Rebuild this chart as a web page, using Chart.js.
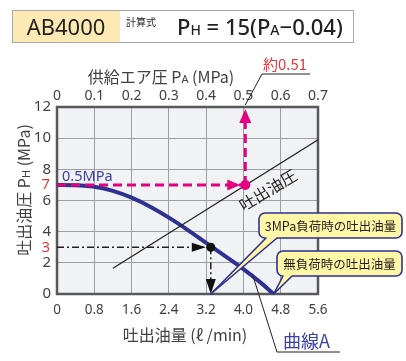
<!DOCTYPE html>
<html>
<head>
<meta charset="utf-8">
<script src="https://cdn.jsdelivr.net/npm/chart.js@4.4.1/dist/chart.umd.min.js"></script>
<style>
html, body { margin: 0; padding: 0; background: #fff; }
#wrap { width: 406px; height: 361px; }
</style>
</head>
<body>
<div id="wrap"><canvas id="chart" width="406" height="361"></canvas></div>
<script>
// axis ticks
const flowTicks = [0, 0.8, 1.6, 2.4, 3.2, 4.0, 4.8, 5.6];
const flowLabels = ['0', '0.8', '1.6', '2.4', '3.2', '4.0', '4.8', '5.6'];
const airTicks = [0, 0.1, 0.2, 0.3, 0.4, 0.5, 0.6, 0.7];
const airLabels = ['0', '0.1', '0.2', '0.3', '0.4', '0.5', '0.6', '0.7'];
const pressTicks = [0, 2, 4, 6, 8, 10, 12];

// curve A (flow vs discharge pressure at 0.5MPa supply)
const curveFlow = [0, 0.4, 0.8, 1.2, 1.6, 2.0, 2.4, 2.8, 3.2, 3.6, 4.0, 4.35, 4.65];
const curvePress = [7.0, 6.98, 6.88, 6.62, 6.18, 5.6, 4.9, 4.12, 3.28, 2.45, 1.6, 0.78, 0];

// discharge pressure line PH = 15(PA-0.04), read at its two ends
const linePA = [0.15, 0.7];
const linePH = [1.65, 9.9];

// reading points
const setPA = 0.505, setPH = 7;
const loadFlow = 3.3, loadPH = 3;
const noLoadFlow = 4.65;

const JP = '"Noto Sans CJK JP", "Noto Sans", sans-serif';
const NUM = '"Noto Sans", "Noto Sans CJK JP", sans-serif';
const BLUE = '#2e3192';
const MAGENTA = '#e4007f';
const RED = '#e8383d';

function toXY(xs, ys) {
    return xs.map((x, i) => ({x: x, y: ys[i]}));
}

function arrowHead(ctx, x, y, dx, dy, len, half, color) {
    const nx = -dy, ny = dx;
    ctx.save();
    ctx.fillStyle = color;
    ctx.beginPath();
    ctx.moveTo(x, y);
    ctx.lineTo(x - dx * len + nx * half, y - dy * len + ny * half);
    ctx.lineTo(x - dx * len - nx * half, y - dy * len - ny * half);
    ctx.closePath();
    ctx.fill();
    ctx.restore();
}

function dot(ctx, x, y, r, color) {
    ctx.save();
    ctx.fillStyle = color;
    ctx.beginPath();
    ctx.arc(x, y, r, 0, Math.PI * 2);
    ctx.fill();
    ctx.restore();
}

// draws text pieces one after the other: [text, font, dy]
function richText(ctx, parts, x, y, color) {
    ctx.save();
    ctx.fillStyle = color;
    ctx.textBaseline = 'alphabetic';
    ctx.textAlign = 'left';
    let cx = x;
    for (const p of parts) {
        ctx.font = p[1];
        ctx.fillText(p[0], cx, y + (p[2] || 0));
        cx += ctx.measureText(p[0]).width;
    }
    ctx.restore();
    return cx;
}

function richWidth(ctx, parts) {
    let w = 0;
    for (const p of parts) {
        ctx.font = p[1];
        w += ctx.measureText(p[0]).width;
    }
    return w;
}

function bubble(ctx, x, y, w, h, r, t1, t2, tipX, tipY, text) {
    ctx.save();
    ctx.beginPath();
    ctx.moveTo(x + r, y);
    ctx.lineTo(x + w - r, y);
    ctx.arcTo(x + w, y, x + w, y + r, r);
    ctx.lineTo(x + w, y + h - r);
    ctx.arcTo(x + w, y + h, x + w - r, y + h, r);
    ctx.lineTo(t2, y + h);
    ctx.lineTo(tipX, tipY);
    ctx.lineTo(t1, y + h);
    ctx.lineTo(x + r, y + h);
    ctx.arcTo(x, y + h, x, y + h - r, r);
    ctx.lineTo(x, y + r);
    ctx.arcTo(x, y, x + r, y, r);
    ctx.closePath();
    ctx.fillStyle = '#fff6a6';
    ctx.fill();
    ctx.lineWidth = 1.6;
    ctx.strokeStyle = BLUE;
    ctx.lineJoin = 'round';
    ctx.stroke();
    ctx.fillStyle = '#231f20';
    ctx.font = '12.5px ' + JP;
    ctx.textAlign = 'center';
    ctx.textBaseline = 'middle';
    ctx.fillText(text, x + w / 2, y + h / 2 + 1);
    ctx.restore();
}

const decorations = {
    id: 'decorations',
    beforeDraw(chart) {
        const {ctx, chartArea: a} = chart;
        ctx.save();
        ctx.fillStyle = '#f1f2f4';
        ctx.fillRect(a.left, a.top, a.right - a.left, a.bottom - a.top);
        ctx.restore();
    },
    beforeDatasetsDraw(chart) {
        const {ctx, chartArea: a} = chart;
        ctx.save();
        ctx.strokeStyle = '#58595b';
        ctx.lineWidth = 2.5;
        ctx.strokeRect(a.left, a.top, a.right - a.left, a.bottom - a.top);
        ctx.restore();
    },
    afterDatasetsDraw(chart) {
        const {ctx, chartArea: a, scales} = chart;
        const fx = v => scales.x.getPixelForValue(v);
        const ax = v => scales.x2.getPixelForValue(v);
        const py = v => scales.y.getPixelForValue(v);

        // magenta reading: arrows and dot
        const mx = ax(setPA), my = py(setPH);
        arrowHead(ctx, mx - 5, my, 1, 0, 13, 5.5, MAGENTA);
        arrowHead(ctx, mx, a.top + 2, 0, -1, 14, 6, MAGENTA);
        dot(ctx, mx, my, 5, MAGENTA);

        // black reading: arrows and dot
        const bx = fx(loadFlow), by = py(loadPH);
        arrowHead(ctx, bx - 5, by, 1, 0, 14, 4.5, '#111');
        arrowHead(ctx, bx, a.bottom, 0, 1, 15, 5, '#111');
        dot(ctx, bx, by, 4.5, '#111');

        // title box
        ctx.save();
        ctx.fillStyle = '#fde9b4';
        ctx.fillRect(12, 10, 108, 32);
        ctx.strokeStyle = '#a7a9ac';
        ctx.lineWidth = 1;
        ctx.strokeRect(12.5, 10.5, 341, 32);
        ctx.fillStyle = '#231f20';
        ctx.font = '22px ' + NUM;
        ctx.textAlign = 'center';
        ctx.textBaseline = 'alphabetic';
        ctx.fillText('AB4000', 66, 35);
        ctx.font = '10px ' + JP;
        ctx.textAlign = 'left';
        ctx.fillText('計算式', 126, 26);
        ctx.restore();
        const big = '500 22px ' + NUM, sub = '500 14px ' + NUM;
        richText(ctx, [['P', big], ['H', sub], [' = 15(P', big], ['A', sub], ['\u22120.04)', big]], 177, 35, '#231f20');

        // top axis title
        const f16 = '16px ' + JP, s11 = '11px ' + NUM;
        const topParts = [['供給エア圧 P', f16], ['A', s11], [' (MPa)', f16]];
        richText(ctx, topParts, 161 - richWidth(ctx, topParts) / 2, 83, '#414042');

        // bottom axis title
        ctx.save();
        ctx.fillStyle = '#414042';
        ctx.font = f16;
        ctx.textAlign = 'center';
        ctx.textBaseline = 'middle';
        ctx.fillText('吐出油量 (ℓ /min)', 185, 335);
        ctx.restore();

        // left axis title (rotated)
        ctx.save();
        ctx.translate(24, 190);
        ctx.rotate(-Math.PI / 2);
        const leftParts = [['吐出油圧 P', f16], ['H', s11], [' (MPa)', f16]];
        richText(ctx, leftParts, -richWidth(ctx, leftParts) / 2, 6, '#414042');
        ctx.restore();

        // red reading labels on the y axis
        ctx.save();
        ctx.fillStyle = RED;
        ctx.font = '15px ' + NUM;
        ctx.textAlign = 'right';
        ctx.textBaseline = 'middle';
        ctx.fillText('7', 50, py(setPH));
        ctx.fillText('3', 50, py(loadPH));
        ctx.restore();

        // 0.5MPa label
        ctx.save();
        ctx.fillStyle = '#3c40a0';
        ctx.font = '14.5px ' + NUM;
        ctx.textBaseline = 'middle';
        ctx.fillText('0.5MPa', 62, 177);
        ctx.restore();

        // 吐出油圧 label along the line
        ctx.save();
        ctx.translate(268, 190);
        ctx.rotate(-31 * Math.PI / 180);
        ctx.fillStyle = '#231f20';
        ctx.font = '16px ' + JP;
        ctx.textAlign = 'center';
        ctx.textBaseline = 'middle';
        ctx.fillText('吐出油圧', 0, 0);
        ctx.restore();

        // 約0.51 leader
        ctx.save();
        ctx.strokeStyle = '#231f20';
        ctx.lineWidth = 1;
        ctx.beginPath();
        ctx.moveTo(mx, a.top - 2);
        ctx.lineTo(262, 74);
        ctx.lineTo(310, 74);
        ctx.stroke();
        ctx.fillStyle = RED;
        ctx.font = '15px ' + JP;
        ctx.textBaseline = 'middle';
        ctx.fillText('約0.51', 263, 64);
        ctx.restore();

        // 曲線A leader
        ctx.save();
        ctx.strokeStyle = '#231f20';
        ctx.lineWidth = 1;
        ctx.beginPath();
        ctx.moveTo(fx(4.2), py(1.2));
        ctx.lineTo(277, 352);
        ctx.lineTo(340, 352);
        ctx.stroke();
        ctx.fillStyle = '#3c40a0';
        ctx.font = '18px ' + JP;
        ctx.textBaseline = 'middle';
        ctx.fillText('曲線A', 283, 341);
        ctx.restore();

        // callout bubbles
        bubble(ctx, 259, 213, 143, 25, 6, 266, 277, bx, a.bottom, '3MPa負荷時の吐出油量');
        bubble(ctx, 277, 251, 125, 25, 6, 283, 292, fx(noLoadFlow), a.bottom, '無負荷時の吐出油量');
    }
};

function fixedTicks(values) {
    return scale => { scale.ticks = values.map(v => ({value: v})); };
}

const ctx = document.getElementById('chart');
new Chart(ctx, {
    type: 'line',
    data: {
        datasets: [
            {
                label: 'magenta-h',
                data: [{x: 0, y: setPH}, {x: setPA, y: setPH}],
                xAxisID: 'x2',
                borderColor: MAGENTA,
                borderWidth: 3,
                borderDash: [9, 5],
                pointRadius: 0
            },
            {
                label: 'magenta-v',
                data: [{x: setPA, y: setPH}, {x: setPA, y: 11.2}],
                xAxisID: 'x2',
                borderColor: MAGENTA,
                borderWidth: 3,
                borderDash: [9, 5],
                pointRadius: 0
            },
            {
                label: '吐出油圧',
                data: toXY(linePA, linePH),
                xAxisID: 'x2',
                borderColor: '#231f20',
                borderWidth: 1.2,
                pointRadius: 0
            },
            {
                label: 'load-h',
                data: [{x: 0, y: loadPH}, {x: loadFlow, y: loadPH}],
                borderColor: '#231f20',
                borderWidth: 1.5,
                borderDash: [7, 3, 2, 3],
                pointRadius: 0
            },
            {
                label: 'load-v',
                data: [{x: loadFlow, y: loadPH}, {x: loadFlow, y: 0.6}],
                borderColor: '#231f20',
                borderWidth: 1.5,
                borderDash: [7, 3, 2, 3],
                pointRadius: 0
            },
            {
                label: '曲線A',
                data: toXY(curveFlow, curvePress),
                borderColor: BLUE,
                borderWidth: 4,
                cubicInterpolationMode: 'monotone',
                pointRadius: 0
            }
        ]
    },
    options: {
        responsive: false,
        animation: false,
        layout: {padding: {left: 0, right: 88, top: 0, bottom: 0}},
        plugins: {legend: {display: false}, tooltip: {enabled: false}},
        scales: {
            x: {
                type: 'linear',
                position: 'bottom',
                min: 0,
                max: 5.6,
                afterBuildTicks: fixedTicks(flowTicks),
                afterFit: s => { s.height = 67; },
                grid: {color: '#9d9fa2', lineWidth: 1, drawTicks: false},
                border: {display: false},
                ticks: {
                    padding: 8,
                    color: '#414042',
                    font: {family: NUM, size: 13.5},
                    maxRotation: 0,
                    autoSkip: false,
                    callback: (v, i) => flowLabels[i]
                }
            },
            x2: {
                type: 'linear',
                position: 'top',
                min: 0,
                max: 0.7,
                afterBuildTicks: fixedTicks(airTicks),
                afterFit: s => { s.height = 107; },
                grid: {display: false, drawTicks: false},
                border: {display: false},
                ticks: {
                    padding: 3,
                    color: '#414042',
                    font: {family: NUM, size: 14},
                    maxRotation: 0,
                    autoSkip: false,
                    callback: (v, i) => airLabels[i]
                }
            },
            y: {
                type: 'linear',
                min: 0,
                max: 12,
                afterBuildTicks: fixedTicks(pressTicks),
                afterFit: s => { s.width = 57; },
                grid: {color: '#9d9fa2', lineWidth: 1, drawTicks: false},
                border: {display: false},
                ticks: {
                    padding: 6,
                    color: '#414042',
                    font: {family: NUM, size: 15},
                    autoSkip: false
                }
            }
        }
    },
    plugins: [decorations]
});
</script>
</body>
</html>
